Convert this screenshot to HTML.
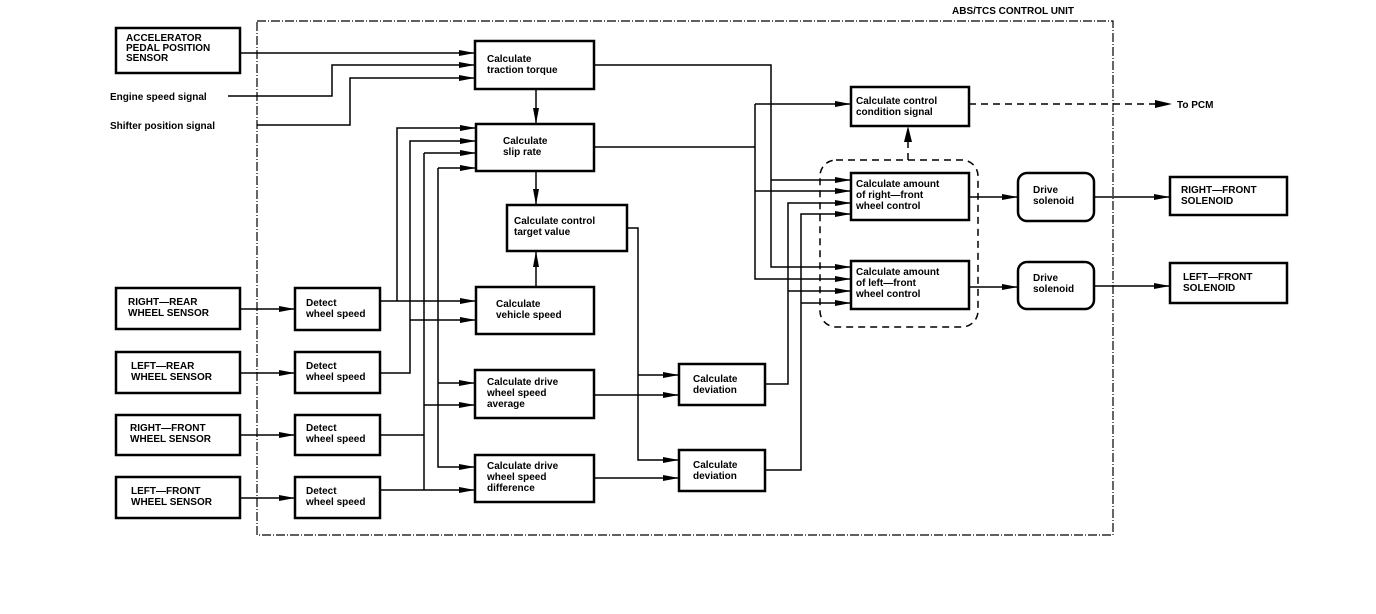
<!DOCTYPE html>
<html><head><meta charset="utf-8"><style>
html,body{margin:0;padding:0;background:#fff;}
svg{display:block;}
text{font-family:"Liberation Sans",sans-serif;font-weight:bold;font-size:10px;fill:#000;}
</style></head><body>
<svg width="1376" height="614" viewBox="0 0 1376 614" xmlns="http://www.w3.org/2000/svg">
<defs>
<marker id="a" markerWidth="16" markerHeight="8" refX="16" refY="4" orient="auto" markerUnits="userSpaceOnUse">
<path d="M0,1 L16,4 L0,7 Z" fill="#000"/></marker>
</defs>
<!-- control unit -->
<rect x="257" y="21" width="856" height="514" fill="none" stroke="#000" stroke-width="1.2" stroke-dasharray="9 2 1 2"/>
<text x="952" y="14">ABS/TCS CONTROL UNIT</text>

<g fill="none" stroke="#000" stroke-width="2.5">
<rect x="116" y="28" width="124" height="45"/>
<rect x="475" y="41" width="119" height="48"/>
<rect x="476" y="124" width="118" height="47"/>
<rect x="507" y="205" width="120" height="46"/>
<rect x="476" y="287" width="118" height="47"/>
<rect x="475" y="370" width="119" height="48"/>
<rect x="475" y="455" width="119" height="47"/>
<rect x="679" y="364" width="86" height="41"/>
<rect x="679" y="450" width="86" height="41"/>
<rect x="851" y="87" width="118" height="39"/>
<rect x="851" y="173" width="118" height="47"/>
<rect x="851" y="261" width="118" height="48"/>
<rect x="1018" y="173" width="76" height="48" rx="9"/>
<rect x="1018" y="262" width="76" height="47" rx="9"/>
<rect x="1170" y="177" width="117" height="38"/>
<rect x="1170" y="263" width="117" height="40"/>
<rect x="116" y="288" width="124" height="41"/>
<rect x="116" y="352" width="124" height="41"/>
<rect x="116" y="415" width="124" height="40"/>
<rect x="116" y="477" width="124" height="41"/>
<rect x="295" y="288" width="85" height="42"/>
<rect x="295" y="352" width="85" height="41"/>
<rect x="295" y="415" width="85" height="40"/>
<rect x="295" y="477" width="85" height="41"/>
</g>
<rect x="820" y="160" width="158" height="167" rx="16" fill="none" stroke="#000" stroke-width="1.5" stroke-dasharray="7 5"/>

<g fill="none" stroke="#000" stroke-width="1.5">
<!-- top inputs -->
<path d="M240,53 H475" marker-end="url(#a)"/>
<path d="M228,96 H332 V65 H475" marker-end="url(#a)"/>
<path d="M257,125 H350 V78 H475" marker-end="url(#a)"/>
<path d="M536,89 V124" marker-end="url(#a)"/>
<path d="M536,171 V205" marker-end="url(#a)"/>
<path d="M536,287 V251" marker-end="url(#a)"/>
<!-- sensors -> detect -->
<path d="M240,309 H295" marker-end="url(#a)"/>
<path d="M240,373 H295" marker-end="url(#a)"/>
<path d="M240,435 H295" marker-end="url(#a)"/>
<path d="M240,498 H295" marker-end="url(#a)"/>
<!-- detect outputs -->
<path d="M380,301 H476" marker-end="url(#a)"/>
<path d="M397,301 V128 H476" marker-end="url(#a)"/>
<path d="M380,373 H410 V141 H476" marker-end="url(#a)"/>
<path d="M410,320 H476" marker-end="url(#a)"/>
<path d="M380,435 H424"/>
<path d="M424,153 H476" marker-end="url(#a)"/>
<path d="M424,153 V490"/>
<path d="M380,490 H475" marker-end="url(#a)"/>
<path d="M424,405 H475" marker-end="url(#a)"/>
<path d="M438,168 H476" marker-end="url(#a)"/>
<path d="M438,168 V467 H475" marker-end="url(#a)"/>
<path d="M438,383 H475" marker-end="url(#a)"/>
<!-- deviation inputs -->
<path d="M627,228 H638 V460 H679" marker-end="url(#a)"/>
<path d="M638,375 H679" marker-end="url(#a)"/>
<path d="M594,395 H679" marker-end="url(#a)"/>
<path d="M594,478 H679" marker-end="url(#a)"/>
<!-- right inputs -->
<path d="M594,65 H771 V267 H851" marker-end="url(#a)"/>
<path d="M771,180 H851" marker-end="url(#a)"/>
<path d="M594,147 H755"/>
<path d="M755,104 V279 H851" marker-end="url(#a)"/>
<path d="M755,104 H851" marker-end="url(#a)"/>
<path d="M755,191 H851" marker-end="url(#a)"/>
<path d="M765,384 H788 V203 H851" marker-end="url(#a)"/>
<path d="M788,291 H851" marker-end="url(#a)"/>
<path d="M765,470 H801 V214 H851" marker-end="url(#a)"/>
<path d="M801,303 H851" marker-end="url(#a)"/>
<!-- outputs -->
<path d="M969,197 H1018" marker-end="url(#a)"/>
<path d="M969,287 H1018" marker-end="url(#a)"/>
<path d="M1094,197 H1170" marker-end="url(#a)"/>
<path d="M1094,286 H1170" marker-end="url(#a)"/>
</g>
<g fill="none" stroke="#000" stroke-width="1.5" stroke-dasharray="7 5">
<path d="M908,160 V128"/>
<path d="M969,104 H1160"/>
</g>
<path d="M904,142 L908,126 L912,142 Z"/>
<path d="M1155,100 L1172,104 L1155,108 Z"/>
<text x="1177" y="108">To PCM</text>

<text x="126" y="41">ACCELERATOR</text>
<text x="126" y="51">PEDAL POSITION</text>
<text x="126" y="61">SENSOR</text>
<text x="110" y="100">Engine speed signal</text>
<text x="110" y="129">Shifter position signal</text>
<text x="487" y="62">Calculate</text>
<text x="487" y="73">traction torque</text>
<text x="503" y="144">Calculate</text>
<text x="503" y="155">slip rate</text>
<text x="514" y="224">Calculate control</text>
<text x="514" y="235">target value</text>
<text x="496" y="307">Calculate</text>
<text x="496" y="318">vehicle speed</text>
<text x="487" y="385">Calculate drive</text>
<text x="487" y="396">wheel speed</text>
<text x="487" y="407">average</text>
<text x="487" y="469">Calculate drive</text>
<text x="487" y="480">wheel speed</text>
<text x="487" y="491">difference</text>
<text x="693" y="382">Calculate</text>
<text x="693" y="393">deviation</text>
<text x="693" y="468">Calculate</text>
<text x="693" y="479">deviation</text>
<text x="856" y="104">Calculate control</text>
<text x="856" y="115">condition signal</text>
<text x="856" y="187">Calculate amount</text>
<text x="856" y="198">of right—front</text>
<text x="856" y="209">wheel control</text>
<text x="856" y="275">Calculate amount</text>
<text x="856" y="286">of left—front</text>
<text x="856" y="297">wheel control</text>
<text x="1033" y="193">Drive</text>
<text x="1033" y="204">solenoid</text>
<text x="1033" y="281">Drive</text>
<text x="1033" y="292">solenoid</text>
<text x="1181" y="193">RIGHT—FRONT</text>
<text x="1181" y="204">SOLENOID</text>
<text x="1183" y="280">LEFT—FRONT</text>
<text x="1183" y="291">SOLENOID</text>
<text x="128" y="305">RIGHT—REAR</text>
<text x="128" y="316">WHEEL SENSOR</text>
<text x="131" y="369">LEFT—REAR</text>
<text x="131" y="380">WHEEL SENSOR</text>
<text x="130" y="431">RIGHT—FRONT</text>
<text x="130" y="442">WHEEL SENSOR</text>
<text x="131" y="494">LEFT—FRONT</text>
<text x="131" y="505">WHEEL SENSOR</text>
<text x="306" y="306">Detect</text>
<text x="306" y="317">wheel speed</text>
<text x="306" y="369">Detect</text>
<text x="306" y="380">wheel speed</text>
<text x="306" y="431">Detect</text>
<text x="306" y="442">wheel speed</text>
<text x="306" y="494">Detect</text>
<text x="306" y="505">wheel speed</text>
</svg>
</body></html>
